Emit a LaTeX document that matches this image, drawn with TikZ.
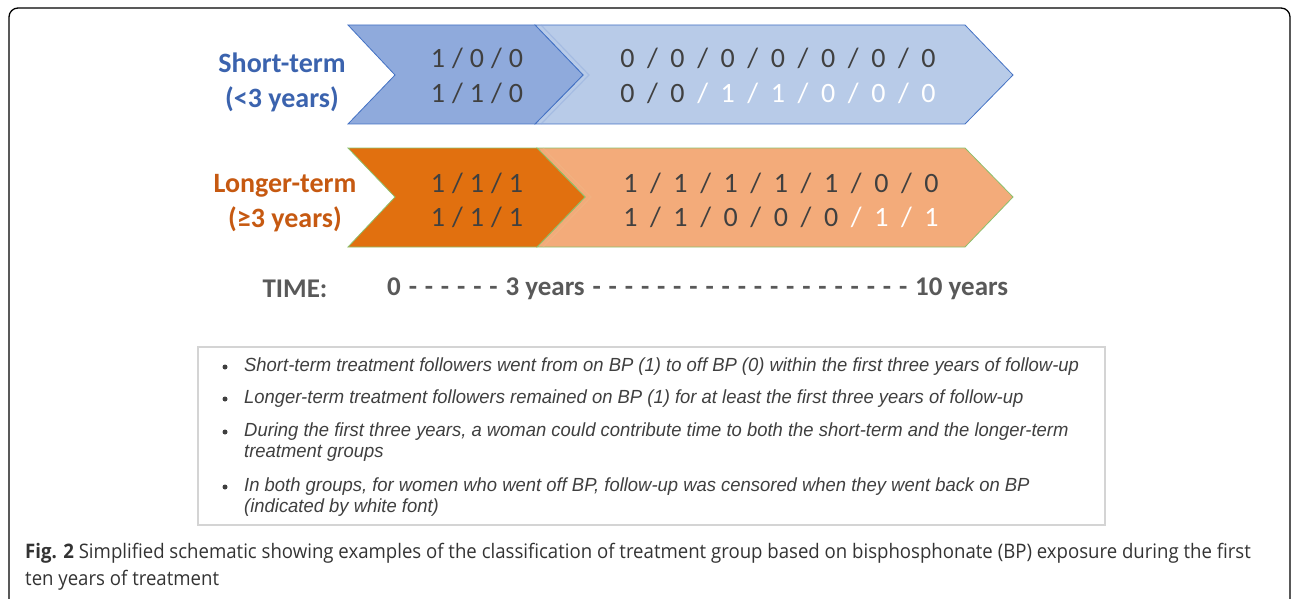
\documentclass[tikz,border=0pt]{standalone}
\usepackage{fontspec}
\setmainfont{Carlito}
\newfontfamily\notefont[FakeStretch=0.97]{Liberation Sans}
\newfontfamily\capfont[FakeStretch=0.93]{Open Sans}
\usetikzlibrary{positioning}

\definecolor{darkblue}{HTML}{8FAADC}
\definecolor{lightblue}{HTML}{B8CBE8}
\definecolor{blueedge}{HTML}{4472C4}
\definecolor{darkorange}{HTML}{E1700F}
\definecolor{lightorange}{HTML}{F3AB7A}
\definecolor{greenedge}{HTML}{8CC06C}
\definecolor{bluetext}{HTML}{3B63AE}
\definecolor{orangetext}{HTML}{C65911}
\definecolor{numgray}{HTML}{404040}
\definecolor{timegray}{HTML}{595959}
\definecolor{notegray}{HTML}{3F3F3F}
\definecolor{boxgray}{HTML}{D4D4D4}
\definecolor{capgray}{HTML}{333333}

\newcommand{\tsep}{\hspace{0.25em}/\hspace{0.25em}}
\newcommand{\wsep}{\hspace{0.45em}/\hspace{0.45em}}

\begin{document}
\begin{tikzpicture}[x=1pt,y=-1pt,
  chevblue/.style={draw=blueedge,line width=0.8pt},
  chevorange/.style={draw=greenedge,line width=0.8pt},
  ghost/.style={line width=1.2pt,opacity=0.45},
  num/.style={font=\fontsize{28}{34}\selectfont,text=numgray,inner sep=0pt},
  group/.style={font=\fontsize{28}{35}\selectfont\bfseries,align=center,inner sep=0pt},
  timetext/.style={font=\fontsize{27}{32}\selectfont\bfseries,text=timegray,inner sep=0pt},
  note/.style={font=\notefont\itshape\fontsize{19}{21}\selectfont,text=notegray,anchor=west,align=left,inner sep=0pt},
  bul/.style={circle,fill=notegray,inner sep=0pt,minimum size=5pt},
  captext/.style={font=\capfont\fontsize{20}{27}\selectfont,text=capgray,anchor=west,align=left,inner sep=0pt}]
\useasboundingbox (0,0) rectangle (1292,599);
\draw[line width=1.3pt,rounded corners=9pt] (9,8) rectangle (1290,614);

% short-term row
\fill[lightblue,chevblue] (535,25) -- (965,25) -- (1013,75) -- (965,124) -- (535,124) -- (583,75) -- cycle;
\draw[ghost,blueedge!60] (541,25) -- (589,75) -- (541,124);
\fill[darkblue,chevblue] (348,25) -- (535,25) -- (583,75) -- (535,124) -- (348,124) -- (395,75) -- cycle;
\node[group,text=bluetext] (short) at (282,82) {Short-term\\(<3 years)};
\node[num] (s1) at (477,58) {1\tsep0\tsep0};
\node[num] (s2) at (477,93) {1\tsep1\tsep0};
\node[num] (s3) at (778,58) {0\wsep0\wsep0\wsep0\wsep0\wsep0\wsep0};
\node[num] (s4) at (778,93) {0\wsep0{\color{white}\wsep1\wsep1\wsep0\wsep0\wsep0}};

% longer-term row
\fill[lightorange,chevorange] (537,148) -- (965,148) -- (1013,197) -- (965,247) -- (537,247) -- (585,197) -- cycle;
\draw[ghost,darkorange!50] (543,148) -- (591,197) -- (543,247);
\fill[darkorange,chevorange] (348,148) -- (537,148) -- (585,197) -- (537,247) -- (348,247) -- (395,197) -- cycle;
\node[group,text=orangetext] (longer) at (285,203) {Longer-term\\(≥3 years)};
\node[num] (l1) at (477,183) {1\tsep1\tsep1};
\node[num] (l2) at (477,217) {1\tsep1\tsep1};
\node[num] (l3) at (781,183) {1\wsep1\wsep1\wsep1\wsep1\wsep0\wsep0};
\node[num] (l4) at (781,217) {1\wsep1\wsep0\wsep0\wsep0{\color{white}\wsep1\wsep1}};

% time axis
\node[timetext] (time) at (295,289) {TIME:};
\node[timetext,anchor=west] (axis) at (387,289)
  {\makebox[621pt][s]{0 - - - - - - \mbox{3 years} - - - - - - - - - - - - - - - - - - - - \mbox{10 years}}};

% notes
\draw[boxgray,line width=1.2pt] (198,347) rectangle (1105,525);
\node[bul] (b1) at (225,367) {};
\node[bul] (b2) at (225,399) {};
\node[bul] (b3) at (225,432) {};
\node[bul] (b4) at (225,487) {};
\node[note] (n1) at (244,367) {Short-term treatment followers went from on BP (1) to off BP (0) within the first three years of follow-up};
\node[note] (n2) at (244,399) {Longer-term treatment followers remained on BP (1) for at least the first three years of follow-up};
\node[note] (n3) at (244,442.5) {During the first three years, a woman could contribute time to both the short-term and the longer-term\\treatment groups};
\node[note] (n4) at (244,497.5) {In both groups, for women who went off BP, follow-up was censored when they went back on BP\\(indicated by white font)};

% caption
\node[captext] (caption) at (25,566.5) {\textbf{Fig. 2} Simplified schematic showing examples of the classification of treatment group based on bisphosphonate (BP) exposure during the first\\ten years of treatment};
\end{tikzpicture}
\end{document}
